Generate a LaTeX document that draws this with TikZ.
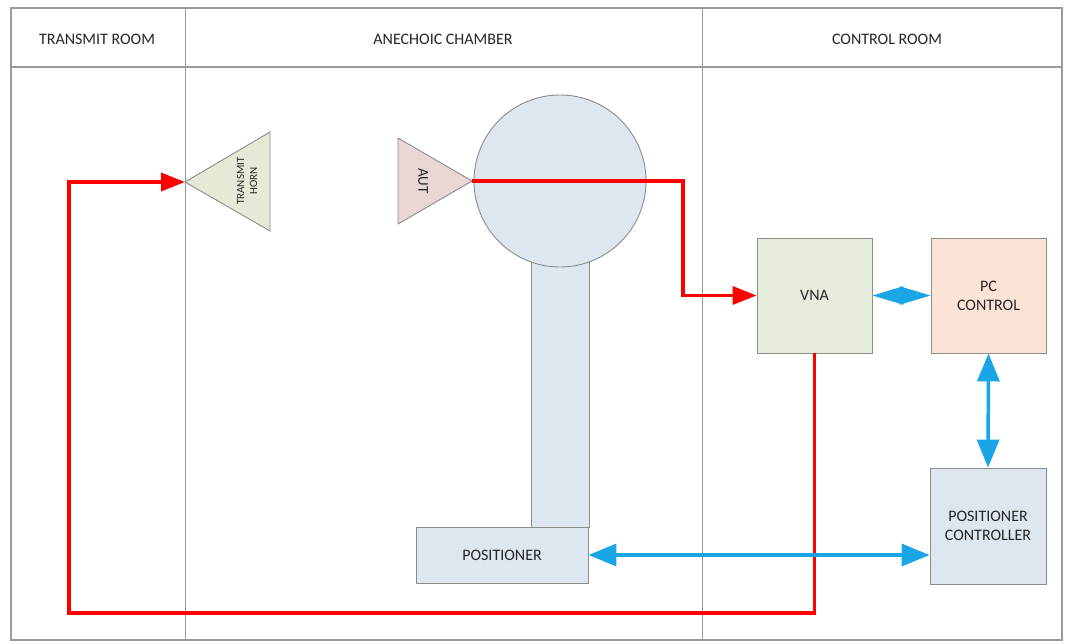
\documentclass[tikz,border=0pt]{standalone}
\usepackage{fontspec}
\setmainfont{Carlito}
\usetikzlibrary{arrows.meta}
\definecolor{framegray}{HTML}{9A9A9A}
\definecolor{boxgray}{HTML}{8C8C8C}
\definecolor{txt}{HTML}{262626}
\definecolor{horngreen}{HTML}{E3EAD6}
\definecolor{autpink}{HTML}{EBD6D6}
\definecolor{vnagreen}{HTML}{E6EDDC}
\definecolor{pcpeach}{HTML}{FBE4D6}
\definecolor{lightblue}{HTML}{DEE6F0}
\definecolor{linkblue}{HTML}{19A5E6}
\definecolor{sigred}{HTML}{FF0000}
\begin{document}
\begin{tikzpicture}[x=1pt,y=-1pt,
  frameline/.style={draw=framegray,line width=1.3pt},
  divline/.style={draw=framegray,line width=0.9pt},
  hdr/.style={font=\fontsize{16}{19}\selectfont,text=txt},
  blk/.style={draw=boxgray,line width=0.9pt,inner sep=0pt,font=\fontsize{16}{19}\selectfont,text=txt,align=center},
  redline/.style={draw=sigred,line width=3.5pt},
  redarrow/.style={redline,-{Triangle[length=24pt,width=18pt]}},
  bluearrow/.style={draw=linkblue,line width=3.5pt,{Triangle[length=28pt,width=22pt]}-{Triangle[length=28pt,width=22pt]}},
  bluediamond/.style={draw=linkblue,line width=2pt,{Triangle[length=31pt,width=18pt]}-{Triangle[length=31pt,width=18pt]}}
]
\useasboundingbox (0,0) rectangle (1067,643);
\fill[white] (0,0) rectangle (1067,643);
% frame
\draw[frameline] (11,8) rectangle (1062,640);
\draw[frameline] (11,67) -- (1062,67);
\draw[divline] (185,8) -- (185,640);
\draw[divline] (702,8) -- (702,640);
% headers
\node[hdr] (h1) at (97,39) {TRANSMIT ROOM};
\node[hdr] (h2) at (443,39) {ANECHOIC CHAMBER};
\node[hdr] (h3) at (887,39) {CONTROL ROOM};
% transmit horn
\coordinate (hornTip) at (185,182);
\draw[fill=horngreen,draw=boxgray,line width=0.9pt] (hornTip) -- (270,132) -- (270,231) -- cycle;
\node[rotate=90,align=center,font=\fontsize{11}{13}\selectfont,text=txt] (hornlabel) at (247,181) {TRANSMIT\\HORN};
% AUT
\coordinate (autTip) at (472,181);
\draw[fill=autpink,draw=boxgray,line width=0.9pt] (398,138) -- (autTip) -- (398,224) -- cycle;
\node[rotate=-90,font=\fontsize{15}{18}\selectfont,text=txt] (autlabel) at (423,181) {AUT};
% positioner tower
\node[blk,fill=lightblue,minimum width=58pt,minimum height=277pt] (stem) at (560,388.5) {};
\node[blk,fill=lightblue,circle,minimum size=172pt] (sphere) at (560,181) {};
\node[blk,fill=lightblue,minimum width=172pt,minimum height=56pt] (positioner) at (502,555) {POSITIONER};
% control room boxes
\node[blk,fill=vnagreen,minimum width=115pt,minimum height=115pt] (vna) at (814.5,295.5) {VNA};
\node[blk,fill=pcpeach,minimum width=115pt,minimum height=115pt] (pc) at (988.5,295.5) {PC\\CONTROL};
\node[blk,fill=lightblue,minimum width=116pt,minimum height=116pt] (posctrl) at (988,526) {POSITIONER\\CONTROLLER};
% red signal path
\coordinate (bend) at (683,181);
\coordinate (loopBL) at (69,613);
\coordinate (loopTL) at (69,182);
\draw[redarrow] (autTip) -- (bend) |- (vna.west);
\draw[redarrow] (vna.south) |- (loopBL) -- (loopTL) -- (hornTip);
% blue links
\draw[bluearrow] (positioner.east) -- (positioner.east -| posctrl.west);
\draw[bluearrow] (pc.south) -- (posctrl.north);
\draw[bluediamond] (vna.east) -- (pc.west);
\end{tikzpicture}
\end{document}
